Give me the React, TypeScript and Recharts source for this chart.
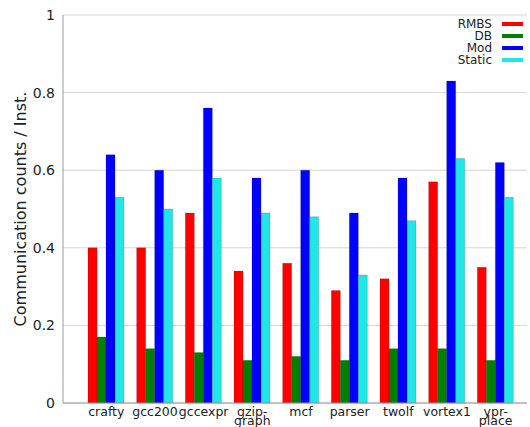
import React from 'react';
import { BarChart, Bar, XAxis, YAxis, CartesianGrid, Label } from 'recharts';

const benchmarks = ['crafty', 'gcc200', 'gccexpr', 'gzip-\ngraph', 'mcf', 'parser', 'twolf', 'vortex1', 'ypr-\nplace'];
const rmbs = [0.40, 0.40, 0.49, 0.34, 0.36, 0.29, 0.32, 0.57, 0.35];
const db = [0.17, 0.14, 0.13, 0.11, 0.12, 0.11, 0.14, 0.14, 0.11];
const mod = [0.64, 0.60, 0.76, 0.58, 0.60, 0.49, 0.58, 0.83, 0.62];
const staticVals = [0.53, 0.50, 0.58, 0.49, 0.48, 0.33, 0.47, 0.63, 0.53];
const yTicks = [0, 0.2, 0.4, 0.6, 0.8, 1];

const seriesInfo = [
  { key: 'RMBS', color: '#ff0000' },
  { key: 'DB', color: '#007f00' },
  { key: 'Mod', color: '#0000ff' },
  { key: 'Static', color: '#22e6e6' },
];

const data = benchmarks.map((name, i) => ({
  name,
  RMBS: rmbs[i],
  DB: db[i],
  Mod: mod[i],
  Static: staticVals[i],
}));

const FONT = '"DejaVu Sans", sans-serif';
const FRAME = '#9a9a9a';

const XTick = ({ x, y, payload }: any) => {
  const lines = String(payload.value).split('\n');
  return (
    <text x={x} y={y} textAnchor="middle" fontFamily={FONT} fontSize={12.5} fill="#222">
      {lines.map((l, i) => (
        <tspan key={i} x={x} dy={i === 0 ? 5 : 9}>{l}</tspan>
      ))}
    </text>
  );
};

const LegendBox = () => (
  <div style={{ position: 'absolute', left: 440, top: 18, fontFamily: FONT, fontSize: 12, color: '#222' }}>
    {seriesInfo.map(s => (
      <div key={s.key} style={{ display: 'flex', alignItems: 'center', height: 12, justifyContent: 'flex-end' }}>
        <span style={{ lineHeight: '12px', width: 52, textAlign: 'right' }}>{s.key}</span>
        <span style={{ display: 'inline-block', width: 21, height: 4, background: s.color, marginLeft: 10 }} />
      </div>
    ))}
  </div>
);

export default function App() {
  return (
    <div style={{ position: 'absolute', left: 0, top: 0, width: 530, height: 427, background: '#fff' }}>
      <BarChart
        width={530}
        height={427}
        data={data}
        margin={{ top: 15, right: 3, bottom: 0, left: 0 }}
        barGap={0}
        barSize={9}
      >
        <CartesianGrid vertical={false} stroke="#d6d6d6" />
        <XAxis
          dataKey="name"
          height={24}
          interval={0}
          padding={{ left: 19, right: 7 }}
          axisLine={{ stroke: FRAME }}
          tickLine={false}
          tick={<XTick />}
        />
        <XAxis xAxisId="top" dataKey="name" orientation="top" height={0} axisLine={{ stroke: FRAME }} tick={false} tickLine={false} padding={{ left: 19, right: 7 }} />
        <YAxis
          domain={[0, 1]}
          ticks={yTicks}
          width={63}
          axisLine={{ stroke: FRAME }}
          tickLine={false}
          tickFormatter={(v: number) => String(v)}
          tick={{ fontFamily: FONT, fontSize: 14, fill: '#222' }}
        >
          <Label
            value="Communication counts / Inst."
            angle={-90}
            position="insideLeft"
            offset={20}
            style={{ textAnchor: 'middle', fontFamily: FONT, fontSize: 16, fill: '#222' }}
          />
        </YAxis>
        <YAxis yAxisId="right" orientation="right" width={0} domain={[0, 1]} axisLine={{ stroke: FRAME }} tick={false} tickLine={false} />
        {seriesInfo.map(s => (
          <Bar key={s.key} dataKey={s.key} fill={s.color} stroke="#000" strokeOpacity={0.25} strokeWidth={0.6} isAnimationActive={false} />
        ))}
      </BarChart>
      <LegendBox />
    </div>
  );
}
